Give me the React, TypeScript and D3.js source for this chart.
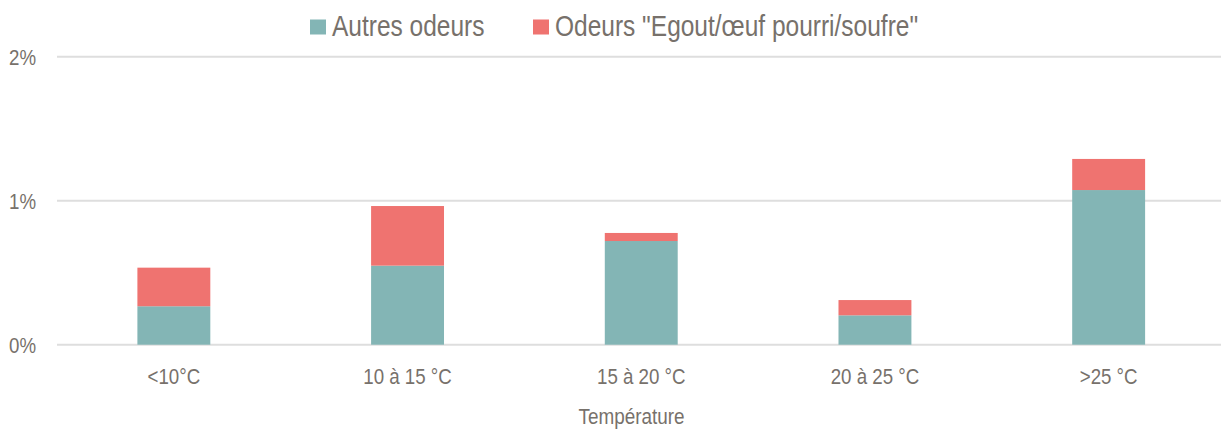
import React, { useEffect, useRef } from 'react';
import * as d3 from 'd3';

// values in percent
const categories = ['<10°C', '10 à 15 °C', '15 à 20 °C', '20 à 25 °C', '>25 °C'];
const autresOdeurs = [0.267, 0.549, 0.72, 0.204, 1.074];
const odeursEgout = [0.268, 0.414, 0.056, 0.106, 0.216];
const seriesNames = ['Autres odeurs', 'Odeurs "Egout/œuf pourri/soufre"'];
const yTicks = [0, 1, 2];

const colors = ['#83b5b5', '#ef7370'];
const textColor = '#77716b';
const font = '"Liberation Sans", Arial, sans-serif';
const narrow = 0.85; // fake Arial Narrow by squeezing the text

function App() {
    const ref = useRef<SVGSVGElement>(null);

    useEffect(() => {
        const w = 1221, h = 430;
        const svg = d3.select(ref.current);
        svg.selectAll('*').remove();
        svg.attr('width', w).attr('height', h).style('font-family', font);

        const x = d3.scaleBand()
            .domain(categories)
            .range([57, 1225.5])
            .paddingInner(0.688)
            .paddingOuter(0.344);

        const y = d3.scaleLinear().domain([0, 2]).range([344.7, 56.7]);

        // grid lines
        svg.append('g')
            .selectAll('line')
            .data(yTicks)
            .enter()
            .append('line')
            .attr('x1', 57)
            .attr('x2', w)
            .attr('y1', d => y(d))
            .attr('y2', d => y(d))
            .attr('stroke', '#dedede')
            .attr('stroke-width', 2);

        svg.append('g')
            .selectAll('text')
            .data(yTicks)
            .enter()
            .append('text')
            .attr('transform', d => `translate(36,${y(d)}) scale(${narrow},1)`)
            .attr('dy', '0.36em')
            .attr('text-anchor', 'end')
            .attr('font-size', 22)
            .attr('fill', textColor)
            .text(d => d + '%');

        const table = categories.map((c, i) => ({ cat: c, a: autresOdeurs[i], b: odeursEgout[i] }));
        const stack = d3.stack<any>().keys(['a', 'b'])(table);

        svg.append('g')
            .selectAll('g')
            .data(stack)
            .enter()
            .append('g')
            .attr('fill', (d, i) => colors[i])
            .selectAll('rect')
            .data(d => d)
            .enter()
            .append('rect')
            .attr('x', (d: any) => x(d.data.cat) as number)
            .attr('width', x.bandwidth())
            .attr('y', d => y(d[1]))
            .attr('height', d => y(d[0]) - y(d[1]));

        // category labels
        svg.append('g')
            .selectAll('text')
            .data(categories)
            .enter()
            .append('text')
            .attr('transform', d => `translate(${(x(d) as number) + x.bandwidth() / 2},384) scale(${narrow},1)`)
            .attr('text-anchor', 'middle')
            .attr('font-size', 22)
            .attr('fill', textColor)
            .text(d => d);

        svg.append('text')
            .attr('transform', `translate(631.5,424) scale(0.86,1)`)
            .attr('text-anchor', 'middle')
            .attr('font-size', 22)
            .attr('fill', textColor)
            .text('Température');

        // legend
        const legendX = [310, 533];
        const legend = svg.append('g')
            .selectAll('g')
            .data(seriesNames)
            .enter()
            .append('g')
            .attr('transform', (d, i) => `translate(${legendX[i]},0)`);
        legend.append('rect')
            .attr('y', 19.5)
            .attr('width', 16)
            .attr('height', 15)
            .attr('fill', (d, i) => colors[i]);
        legend.append('text')
            .attr('transform', `translate(22,36) scale(0.845,1)`)
            .attr('font-size', 29)
            .attr('fill', textColor)
            .text(d => d);
    }, []);

    return (
        <svg ref={ref} style={{ position: 'absolute', left: 0, top: 0 }}></svg>
    );
}

export default App;
